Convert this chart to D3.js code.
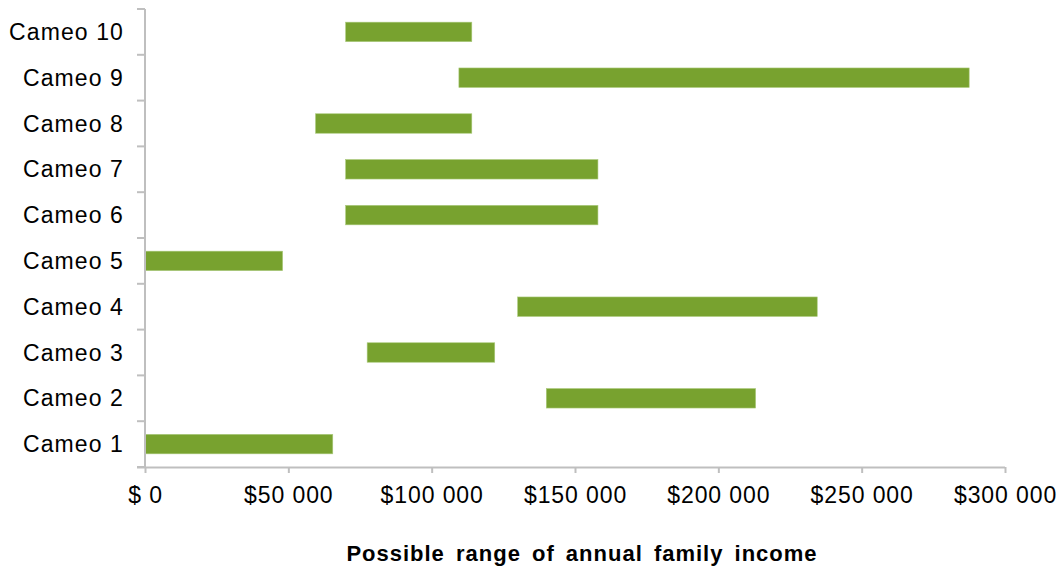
<!DOCTYPE html>
<html>
<head>
<meta charset="utf-8">
<script src="https://cdn.jsdelivr.net/npm/d3@7"></script>
<style>
  html, body { margin: 0; padding: 0; background: #fff; }
  svg text { font-family: "Liberation Sans", Arial, sans-serif; fill: #000; }
</style>
</head>
<body>
<svg id="chart"></svg>
<script>
// data
const categories = ["Cameo 1", "Cameo 2", "Cameo 3", "Cameo 4", "Cameo 5",
                    "Cameo 6", "Cameo 7", "Cameo 8", "Cameo 9", "Cameo 10"];
const lowValues  = [0, 140000, 77500, 130000, 0, 70000, 70000, 59500, 109500, 70000];
const highValues = [65500, 213000, 122000, 234500, 48000, 158000, 158000, 114000, 287500, 114000];
const tickValues = [0, 50000, 100000, 150000, 200000, 250000, 300000];
const tickLabels = ["$ 0", "$50 000", "$100 000", "$150 000", "$200 000", "$250 000", "$300 000"];
const xTitle = "Possible range of annual family income";

const width = 1060, height = 569;
const margin = { top: 9, right: 55, bottom: 102, left: 145 };
const axisColor = "#bfbfbf";
const barColor = "#78a22f";

const svg = d3.select("#chart").attr("width", width).attr("height", height);

const x = d3.scaleLinear()
  .domain([0, 300000])
  .range([margin.left, width - margin.right]);

// Cameo 10 at the top
const y = d3.scaleBand()
  .domain(categories.slice().reverse())
  .range([margin.top, height - margin.bottom])
  .paddingInner(0.575)
  .paddingOuter(0.2875);

const rows = categories.map((c, i) => ({ name: c, lo: lowValues[i], hi: highValues[i] }));

// 柱子
svg.append("g")
  .selectAll("rect")
  .data(rows)
  .enter().append("rect")
  .attr("x", d => x(d.lo))
  .attr("y", d => y(d.name))
  .attr("width", d => x(d.hi) - x(d.lo))
  .attr("height", y.bandwidth())
  .attr("fill", barColor)
  .attr("stroke", "#a9c97a")
  .attr("stroke-width", 0.6);

// x axis
const xAxis = svg.append("g")
  .attr("transform", `translate(0,${height - margin.bottom})`)
  .call(d3.axisBottom(x)
    .tickValues(tickValues)
    .tickFormat((d, i) => tickLabels[i])
    .tickSizeInner(6)
    .tickSizeOuter(0)
    .tickPadding(14));
xAxis.select(".domain").attr("stroke", axisColor).attr("stroke-width", 2)
  .attr("d", `M${margin.left - 8},0.5H${width - margin.right}`);
xAxis.selectAll(".tick line").attr("stroke", axisColor).attr("stroke-width", 2);
xAxis.selectAll(".tick text").attr("font-size", 23).attr("fill", "#000")
  .attr("letter-spacing", 0.9)
  .style("font-family", "'Liberation Sans', Arial, sans-serif");

// y axis: ticks sit on the band boundaries
const boundaries = d3.range(categories.length + 1).map(i => margin.top + i * (height - margin.top - margin.bottom) / categories.length);
const yAxisG = svg.append("g");
yAxisG.append("line")
  .attr("x1", margin.left).attr("x2", margin.left)
  .attr("y1", margin.top).attr("y2", height - margin.bottom)
  .attr("stroke", axisColor).attr("stroke-width", 2);
yAxisG.selectAll("line.tk")
  .data(boundaries)
  .enter().append("line")
  .attr("class", "tk")
  .attr("x1", margin.left - 8).attr("x2", margin.left)
  .attr("y1", d => d).attr("y2", d => d)
  .attr("stroke", axisColor).attr("stroke-width", 2);
yAxisG.selectAll("text")
  .data(categories)
  .enter().append("text")
  .attr("x", margin.left - 21)
  .attr("y", d => y(d) + y.bandwidth() / 2)
  .attr("dy", "0.35em")
  .attr("text-anchor", "end")
  .attr("font-size", 23)
  .attr("letter-spacing", 1.1)
  .text(d => d);

// axis title
svg.append("text")
  .attr("x", (margin.left + width - margin.right) / 2 + 7)
  .attr("y", 561)
  .attr("text-anchor", "middle")
  .attr("font-size", 22)
  .attr("font-weight", "bold")
  .attr("letter-spacing", 1)
  .attr("word-spacing", 4)
  .text(xTitle);
</script>
</body>
</html>
